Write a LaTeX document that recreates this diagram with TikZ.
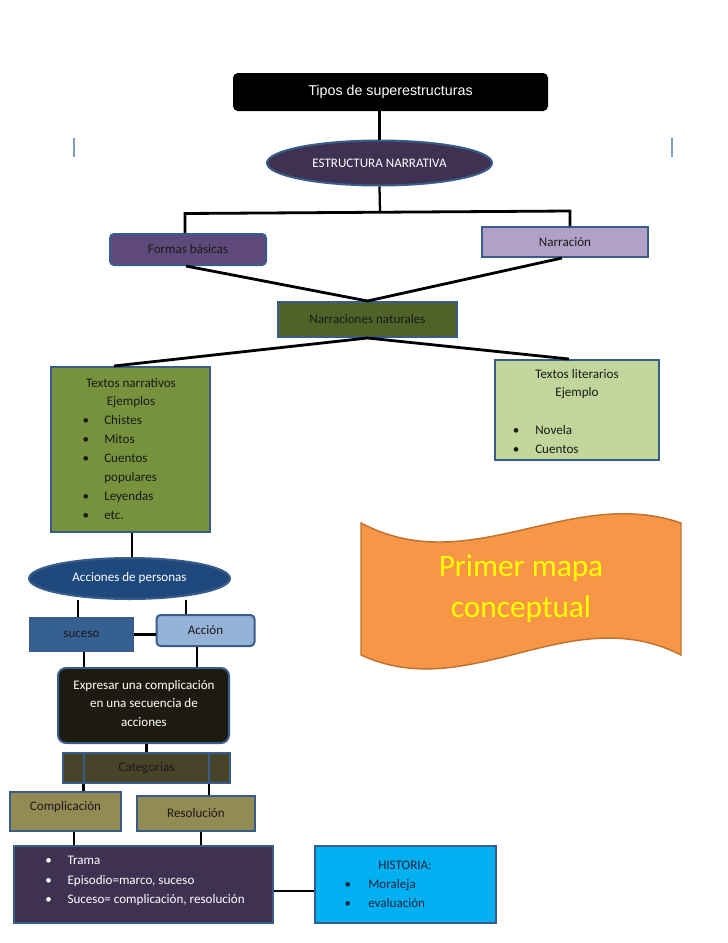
\documentclass[tikz,border=0pt]{standalone}
\usepackage{fontspec}
\setmainfont{Carlito}
\newfontfamily\arialf{Liberation Sans}
\usetikzlibrary{shapes.geometric}
\definecolor{bordc}{HTML}{385D8A}
\definecolor{txtc}{HTML}{1A1A1A}
\definecolor{purpdark}{HTML}{3F3151}
\definecolor{purpmid}{HTML}{5F497A}
\definecolor{purplight}{HTML}{B2A1C7}
\definecolor{olivedark}{HTML}{4F6228}
\definecolor{olivemid}{HTML}{76923C}
\definecolor{olivelight}{HTML}{C2D69B}
\definecolor{navyc}{HTML}{1F497D}
\definecolor{bluemid}{HTML}{366092}
\definecolor{bluelight}{HTML}{95B3D7}
\definecolor{blackbrown}{HTML}{1D1B10}
\definecolor{brownd}{HTML}{494429}
\definecolor{khaki}{HTML}{948A54}
\definecolor{cyanc}{HTML}{00B0F0}
\definecolor{orangec}{HTML}{F79646}
\definecolor{orangeb}{HTML}{C0722F}
\definecolor{yellowc}{HTML}{FFFF00}
\definecolor{markc}{HTML}{7F9CC8}
\definecolor{histtxt}{HTML}{1C2340}
\begin{document}
\begin{tikzpicture}[x=0.75pt,y=-0.75pt,
  every node/.style={inner sep=0pt, text=txtc, font=\fontsize{9.8}{12}\selectfont},
  box/.style={draw=bordc, line width=1.5pt},
  txt/.style={anchor=base},
  txtl/.style={anchor=base west},
  conn/.style={line width=1.7pt, black},
  thick conn/.style={line width=2.1pt, black}]
\useasboundingbox (0,0) rectangle (728,943);

% margin marks
\draw[markc, line width=1pt] (74,138) -- (74,157);
\draw[markc, line width=1pt] (672,138) -- (672,157);

% nodes
\node[box, draw=black, fill=black, rounded corners=3pt, minimum width=234.75pt, minimum height=27pt,
      text=white, font=\arialf\fontsize{10.7}{12}\selectfont] (title) at (390.5,92) {Tipos de superestructuras};
\node[box, ellipse, fill=purpdark, minimum width=168.75pt, minimum height=33.75pt, text=white] (est) at (379.5,163) {ESTRUCTURA NARRATIVA};
\node[box, fill=purpmid, rounded corners=3pt, minimum width=117pt, minimum height=23.25pt] (fb) at (188,249.5) {Formas básicas};
\node[box, fill=purplight, minimum width=124.5pt, minimum height=22.5pt] (nar) at (565,242) {Narración};
\node[box, fill=olivedark, minimum width=134.25pt, minimum height=26.25pt] (nn) at (367.5,319.5) {Narraciones naturales};
\node[box, fill=olivemid, minimum width=119.25pt, minimum height=123.75pt] (tn) at (130.5,449.5) {};
\node[box, fill=olivelight, minimum width=123pt, minimum height=75pt] (tl) at (577,410) {};
\node[box, ellipse, fill=navyc, minimum width=150.75pt, minimum height=30.75pt, text=white] (ap) at (129.5,578.5) {Acciones de personas};
\node[box, fill=bluemid, minimum width=77.25pt, minimum height=24.75pt] (suc) at (81.5,634.5) {suceso};
\node[box, fill=bluelight, rounded corners=3pt, minimum width=73.5pt, minimum height=23.25pt] (acc) at (205.5,630.5) {Acción};
\node[box, fill=blackbrown, rounded corners=6pt, minimum width=128.25pt, minimum height=56.25pt] (exp) at (143.5,705.5) {};
\node[box, fill=brownd, minimum width=125.25pt, minimum height=22.5pt] (cat) at (146.5,768) {Categorias};
\node[box, fill=khaki, minimum width=83.25pt, minimum height=29.25pt] (comp) at (65.5,811.5) {};
\node[box, fill=khaki, minimum width=88.5pt, minimum height=26.25pt] (res) at (196,813.5) {Resolución};
\node[box, fill=purpdark, minimum width=194.25pt, minimum height=57.75pt] (pur) at (143.5,884.5) {};
\node[box, fill=cyanc, minimum width=135.75pt, minimum height=57.75pt] (his) at (405.5,884.5) {};

% texts inside multi-line boxes
\node[txt] (tn1) at (131,387) {Textos narrativos};
\node[txt] (tn2) at (131,405.5) {Ejemplos};
\node[txt] (tnb1) at (86,424) {\textbullet};
\node[txtl] (tn3) at (104,424) {Chistes};
\node[txt] (tnb2) at (86,443) {\textbullet};
\node[txtl] (tn4) at (104,443) {Mitos};
\node[txt] (tnb3) at (86,462) {\textbullet};
\node[txtl] (tn5) at (104,462) {Cuentos};
\node[txtl] (tn6) at (104,481) {populares};
\node[txt] (tnb4) at (86,500) {\textbullet};
\node[txtl] (tn7) at (104,500) {Leyendas};
\node[txt] (tnb5) at (86,519) {\textbullet};
\node[txtl] (tn8) at (104,519) {etc.};

\node[txt] (tl1) at (577,378) {Textos literarios};
\node[txt] (tl2) at (577,396) {Ejemplo};
\node[txt] (tlb1) at (516,434) {\textbullet};
\node[txtl] (tl3) at (535,434) {Novela};
\node[txt] (tlb2) at (516,453) {\textbullet};
\node[txtl] (tl4) at (535,453) {Cuentos};

\node[txt, text=white] (ex1) at (144,689) {Expresar una complicación};
\node[txt, text=white] (ex2) at (144,707.5) {en una secuencia de};
\node[txt, text=white] (ex3) at (144,726) {acciones};

\node[txt] (compt) at (65.5,810.5) {Complicación};

\node[txt, text=white] (pb1) at (48.7,864.7) {\textbullet};
\node[txtl, text=white] (pu1) at (67.3,864.7) {Trama};
\node[txt, text=white] (pb2) at (48.7,884) {\textbullet};
\node[txtl, text=white] (pu2) at (67.3,884) {Episodio=marco, suceso};
\node[txt, text=white] (pb3) at (48.7,903) {\textbullet};
\node[txtl, text=white] (pu3) at (67.3,903) {Suceso= complicación, resolución};

\node[txt, text=histtxt] (hi1) at (405,869.3) {HISTORIA:};
\node[txt, text=histtxt] (hib1) at (348,888) {\textbullet};
\node[txtl, text=histtxt] (hi2) at (368,888) {Moraleja};
\node[txt, text=histtxt] (hib2) at (348,907.3) {\textbullet};
\node[txtl, text=histtxt] (hi3) at (368,907.3) {evaluación};

% banner
\draw[fill=orangec, draw=orangeb, line width=1.1pt]
  (361,523) .. controls (470,580.8) and (570,484.8) .. (681,523)
  -- (681,655) .. controls (570,598.6) and (470,705.3) .. (361,655) -- cycle;
\node[txt, text=yellowc, font=\fontsize{23.5}{28}\selectfont] (pm1) at (521,576.5) {Primer mapa};
\node[txt, text=yellowc, font=\fontsize{23.5}{28}\selectfont] (pm2) at (521,617.5) {conceptual};

% connectors
\draw[conn] (title.south -| est.north) -- (est.north);
\coordinate (jm) at (380,212);
\coordinate (jl) at (185,213.5);
\coordinate (jr) at (570,211);
\draw[conn] (est.south) -- (jm);
\draw[thick conn] (jl |- fb.north) -- (jl) -- (jr) -- (jr |- nar.north);
\draw[thick conn] ([xshift=-1.5pt]fb.south) -- (nn.north) -- ([xshift=-2.25pt]nar.south);
\draw[thick conn] ([xshift=-12.4pt]tn.north) -- (nn.south) -- ([xshift=-6pt]tl.north);
\coordinate (c1) at ([xshift=1.1pt]tn.south);
\draw[conn] (c1) -- (c1 |- ap.north);
\coordinate (c2) at ([xshift=-2.6pt]suc.north);
\draw[conn] (c2) -- (c2 |- ap.south);
\coordinate (c3) at ([xshift=-14.6pt]acc.north);
\draw[conn] (c3) -- (c3 |- ap.south);
\draw[conn] (suc.east) -- (suc.east -| acc.west);
\coordinate (c4) at ([xshift=1.9pt]suc.south);
\draw[conn] (c4) -- (c4 |- exp.north);
\coordinate (c5) at ([xshift=-6.4pt]acc.south);
\draw[conn] (c5) -- (c5 |- exp.north);
\draw[conn] (exp.south -| cat.north) -- (cat.north);
\coordinate (c6) at ([xshift=-47.2pt]cat.north);
\coordinate (c7) at ([xshift=46.9pt]cat.north);
\draw[bordc, line width=1.5pt] (c6) -- (c6 |- cat.south);
\draw[bordc, line width=1.5pt] (c7) -- (c7 |- cat.south);
\draw[conn] (c6 |- cat.south) -- (c6 |- comp.north);
\draw[conn] (c7 |- cat.south) -- (c7 |- res.north);
\coordinate (c8) at ([xshift=6.6pt]comp.south);
\draw[conn] (c8) -- (c8 |- pur.north);
\coordinate (c9) at ([xshift=3.75pt]res.south);
\draw[conn] (c9) -- (c9 |- pur.north);
\coordinate (c10) at ([yshift=-4.9pt]pur.east);
\draw[thick conn] (c10) -- (c10 -| his.west);
\end{tikzpicture}
\end{document}
